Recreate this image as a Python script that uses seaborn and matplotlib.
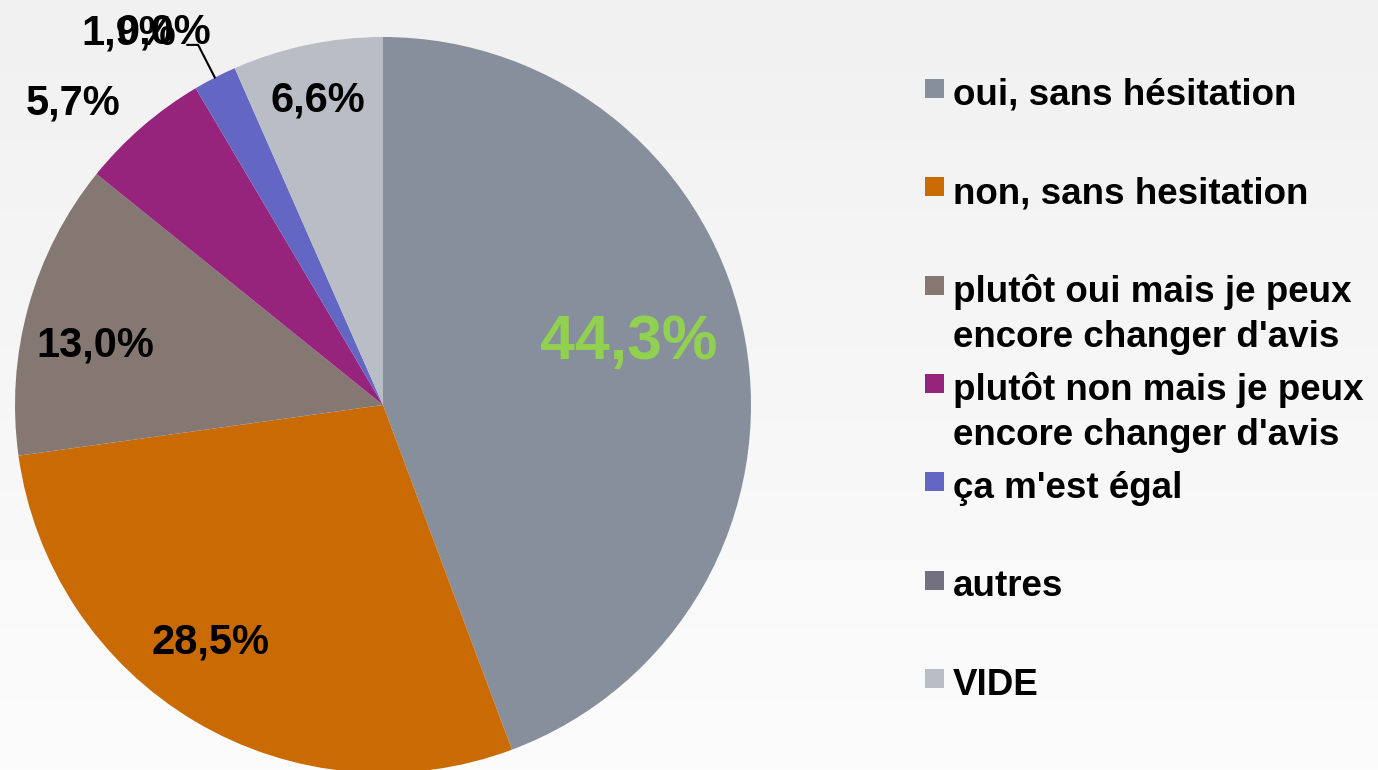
import numpy as np
import matplotlib
matplotlib.use("Agg")
import matplotlib.pyplot as plt
import seaborn as sns
from matplotlib.patches import Rectangle
from matplotlib.colors import LinearSegmentedColormap

# ---- data ----
categories = [
    "oui, sans hésitation",
    "non, sans hesitation",
    "plutôt oui mais je peux\nencore changer d'avis",
    "plutôt non mais je peux\nencore changer d'avis",
    "ça m'est égal",
    "autres",
    "VIDE",
]
values = [44.3, 28.5, 13.0, 5.7, 1.9, 0.0, 6.6]
value_labels = ["44,3%", "28,5%", "13,0%", "5,7%", "1,9%", "0,0%", "6,6%"]
colors = ["#878f9c", "#c96a02", "#857872", "#97247c", "#6466c4", "#737080", "#b9bec6"]

# ---- style ----
label_radius = [0.69, 0.79, 0.80, 1.18, 1.23, 1.18, 0.855]
label_nudge = [4.6, -5.6, 3.2, 4.7, 7.0, 6.5, 0.0]
label_size = [45, 30, 30, 30, 30, 30, 30]
label_color = ["#92d050", "black", "black", "black", "black", "black", "black"]

sns.set_theme(style="white")
plt.rcParams['font.family'] = ['Liberation Sans', 'DejaVu Sans']

W, H = 1378, 770
fig = plt.figure(figsize=(W / 100, H / 100), dpi=100)

# background gradient
bg = fig.add_axes([0, 0, 1, 1], zorder=-10)
grad = np.linspace(0, 1, 256).reshape(-1, 1)
bg.imshow(grad, aspect='auto',
          cmap=LinearSegmentedColormap.from_list('bg', ['#f1f1f1', '#fcfcfc']),
          extent=[0, 1, 0, 1], origin='upper')
bg.axis('off')

cx, cy, R = 383, 405, 368
ax = fig.add_axes([(cx - R) / W, (H - cy - R) / H, 2 * R / W, 2 * R / H])
ax.patch.set_alpha(0)
wedges, _ = ax.pie(values, colors=colors, startangle=90, counterclock=False,
                   radius=1, wedgeprops=dict(linewidth=0))
ax.set_xlim(-1, 1)
ax.set_ylim(-1, 1)
ax.set_aspect('equal')
ax.axis('off')

for i, w in enumerate(wedges):
    mid = (w.theta1 + w.theta2) / 2
    ang = np.deg2rad(mid + label_nudge[i])
    r = label_radius[i]
    ax.text(r * np.cos(ang), r * np.sin(ang) - 0.008, value_labels[i],
            ha='center', va='center', fontsize=label_size[i],
            fontweight='bold', color=label_color[i], clip_on=False)

# leader line for the small "ça m'est égal" slice
w = wedges[4]
mid = np.deg2rad((w.theta1 + w.theta2) / 2)
p0 = (np.cos(mid), np.sin(mid))
p1 = (1.10 * np.cos(mid), 1.10 * np.sin(mid))
p2 = (p1[0] - 0.03, p1[1])
ax.plot([p0[0], p1[0], p2[0]], [p0[1], p1[1], p2[1]], color='black', lw=1.5,
        clip_on=False)

# legend
base0, step, line_gap = 105, 98.3, 45
for i, cat in enumerate(categories):
    b = base0 + step * i
    fig.patches.append(Rectangle((925 / W, 1 - (b - 7) / H), 19 / W, 19 / H,
                                 transform=fig.transFigure, facecolor=colors[i],
                                 edgecolor='none'))
    for j, line in enumerate(cat.split("\n")):
        fig.text(953 / W, 1 - (b + line_gap * j) / H, line, va='baseline',
                 ha='left', fontsize=26.5, fontweight='bold', color='black')

fig.savefig("out.png", dpi=100)
